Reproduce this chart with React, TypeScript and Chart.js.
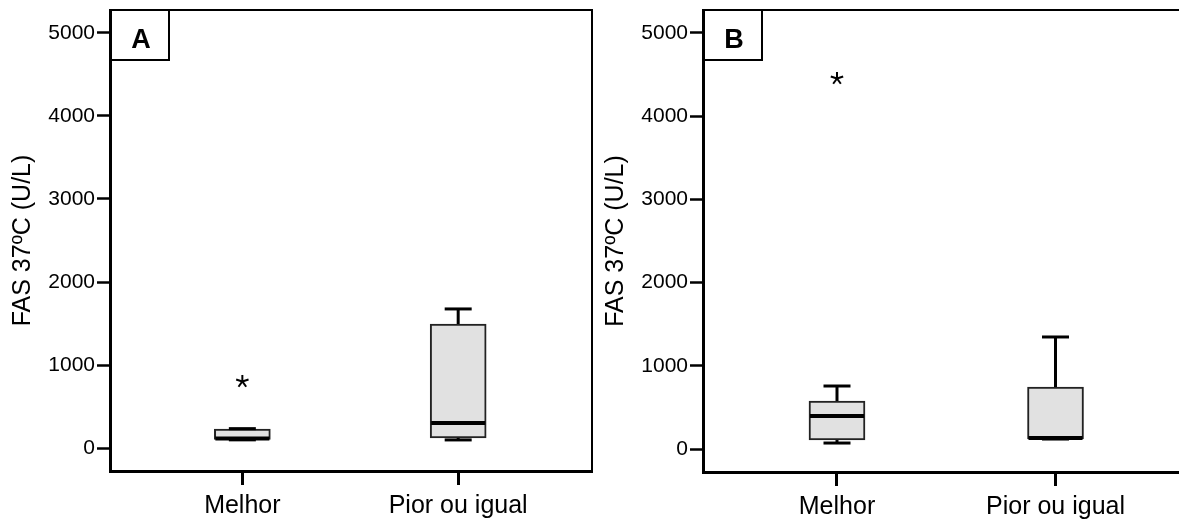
import React, { useEffect, useRef } from 'react';
import { Chart, registerables } from 'chart.js';

Chart.register(...registerables);

const FONT = '"Liberation Sans", Arial, sans-serif';

const categories = ['Melhor', 'Pior ou igual'];
const yTicks = [0, 1000, 2000, 3000, 4000, 5000];
const yTitle = 'FAS 37ºC (U/L)';

// Panel A
const aMin = [100, 99];
const aQ1 = [105, 123];
const aMedian = [116, 304];
const aQ3 = [230, 1495];
const aMax = [235, 1676];
const aOutlierCat = [0];
const aOutlierVal = [815];

// Panel B
const bMin = [73, 121];
const bQ1 = [109, 121];
const bMedian = [398, 132];
const bQ3 = [578, 746];
const bMax = [758, 1347];
const bOutlierCat = [0];
const bOutlierVal = [4464];

type PanelData = {
  label: string;
  min: number[];
  q1: number[];
  median: number[];
  q3: number[];
  max: number[];
  outCat: number[];
  outVal: number[];
};

const panelA: PanelData = { label: 'A', min: aMin, q1: aQ1, median: aMedian, q3: aQ3, max: aMax, outCat: aOutlierCat, outVal: aOutlierVal };
const panelB: PanelData = { label: 'B', min: bMin, q1: bQ1, median: bMedian, q3: bQ3, max: bMax, outCat: bOutlierCat, outVal: bOutlierVal };

const BOX_W = 56;
const CAP_W = 27;

function boxPlugin(p: PanelData) {
  return {
    id: 'boxExtras',
    afterDatasetsDraw(chart: any) {
      const ctx = chart.ctx;
      const xs = chart.scales.x;
      const ys = chart.scales.y;
      const line = (x1: number, y1: number, x2: number, y2: number) => {
        ctx.beginPath();
        ctx.moveTo(x1, y1);
        ctx.lineTo(x2, y2);
        ctx.stroke();
      };
      ctx.save();
      ctx.strokeStyle = '#000';
      categories.forEach((_, i) => {
        const cx = xs.getPixelForValue(i);
        const yMax = ys.getPixelForValue(p.max[i]);
        const yQ3 = ys.getPixelForValue(p.q3[i]);
        const yQ1 = ys.getPixelForValue(p.q1[i]);
        const yMin = ys.getPixelForValue(p.min[i]);
        const yMed = ys.getPixelForValue(p.median[i]);
        ctx.lineWidth = 3;
        line(cx, yQ3, cx, yMax);
        line(cx, yQ1, cx, yMin);
        line(cx - CAP_W / 2, yMax, cx + CAP_W / 2, yMax);
        line(cx - CAP_W / 2, yMin, cx + CAP_W / 2, yMin);
        ctx.lineWidth = 4;
        line(cx - BOX_W / 2 + 1, yMed, cx + BOX_W / 2 - 1, yMed);
      });
      // outliers: 5-armed asterisk
      ctx.lineWidth = 2;
      p.outCat.forEach((c, k) => {
        const cx = xs.getPixelForValue(c);
        const cy = ys.getPixelForValue(p.outVal[k]) + 1;
        const r = 6.5;
        for (let a = 0; a < 5; a++) {
          const ang = -Math.PI / 2 + (a * 2 * Math.PI) / 5;
          line(cx, cy, cx + r * Math.cos(ang), cy + r * Math.sin(ang));
        }
      });
      ctx.restore();
    },
    afterDraw(chart: any) {
      const ctx = chart.ctx;
      const { left, top, right, bottom } = chart.chartArea;
      ctx.save();
      ctx.strokeStyle = '#000';
      ctx.lineWidth = 2;
      ctx.beginPath();
      ctx.moveTo(left, top);
      ctx.lineTo(right, top);
      ctx.lineTo(right, bottom);
      ctx.stroke();
      // panel label box
      ctx.lineWidth = 2;
      ctx.strokeRect(left, top, 59, 50);
      ctx.fillStyle = '#000';
      ctx.font = 'bold 27px ' + FONT;
      ctx.textAlign = 'center';
      ctx.textBaseline = 'alphabetic';
      ctx.fillText(p.label, left + 31, top + 38);
      ctx.restore();
    },
  };
}

function Panel({ p, left, width, padRight, xAxisH }: { p: PanelData; left: number; width: number; padRight: number; xAxisH: number }) {
  const ref = useRef<HTMLCanvasElement>(null);
  useEffect(() => {
    if (!ref.current) return;
    const chart = new Chart(ref.current, {
      type: 'bar',
      data: {
        datasets: [
          {
            data: categories.map((_, i) => ({ x: i, y: [p.q1[i], p.q3[i]] })) as any,
            backgroundColor: '#e1e1e1',
            borderColor: '#222',
            borderWidth: 2,
            borderSkipped: false,
            barThickness: BOX_W,
          },
        ],
      },
      options: {
        responsive: false,
        animation: false,
        events: [],
        layout: { padding: { top: 10, left: 0, right: padRight, bottom: 0 } },
        plugins: { legend: { display: false }, tooltip: { enabled: false } },
        scales: {
          x: {
            type: 'linear',
            min: -0.6132,
            max: 1.62,
            offset: false,
            afterBuildTicks: (s: any) => {
              s.ticks = categories.map((_, i) => ({ value: i }));
            },
            afterFit: (s: any) => {
              s.height = xAxisH;
              s.paddingLeft = 0;
              s.paddingRight = 0;
            },
            ticks: {
              callback: (v: any) => categories[v] ?? '',
              font: { family: FONT, size: 25 },
              color: '#000',
              padding: 6,
              maxRotation: 0,
              autoSkip: false,
            },
            grid: { drawOnChartArea: false, drawTicks: true, tickLength: 14, tickWidth: 3, tickColor: '#000', offset: false },
            border: { display: true, color: '#000', width: 3 },
          },
          y: {
            type: 'linear',
            min: -275,
            max: 5275,
            afterBuildTicks: (s: any) => {
              s.ticks = yTicks.map((v) => ({ value: v }));
            },
            afterFit: (s: any) => {
              s.width = 110;
              s.paddingTop = 0;
              s.paddingBottom = 0;
            },
            ticks: {
              callback: (v: any) => String(v),
              font: { family: FONT, size: 21 },
              color: '#000',
              padding: 2,
            },
            grid: { drawOnChartArea: false, drawTicks: true, tickLength: 13, tickWidth: 2.5, tickColor: '#000' },
            border: { display: true, color: '#000', width: 3 },
            title: {
              display: true,
              text: yTitle,
              font: { family: FONT, size: 25 },
              color: '#000',
              padding: { top: 8, bottom: 0 },
            },
          },
        },
      },
      plugins: [boxPlugin(p)],
    } as any);
    return () => chart.destroy();
  }, []);
  return (
    <canvas
      ref={ref}
      width={width}
      height={521}
      style={{ position: 'absolute', left, top: 0, width, height: 521 }}
    />
  );
}

export default function App() {
  return (
    <div
      style={{
        position: 'fixed',
        left: 0,
        top: 0,
        width: 1179,
        height: 521,
        overflow: 'hidden',
        background: '#fff',
      }}
    >
      <Panel p={panelA} left={0} width={600} padRight={8} xAxisH={50} />
      <Panel p={panelB} left={593} width={600} padRight={2} xAxisH={49} />
    </div>
  );
}
